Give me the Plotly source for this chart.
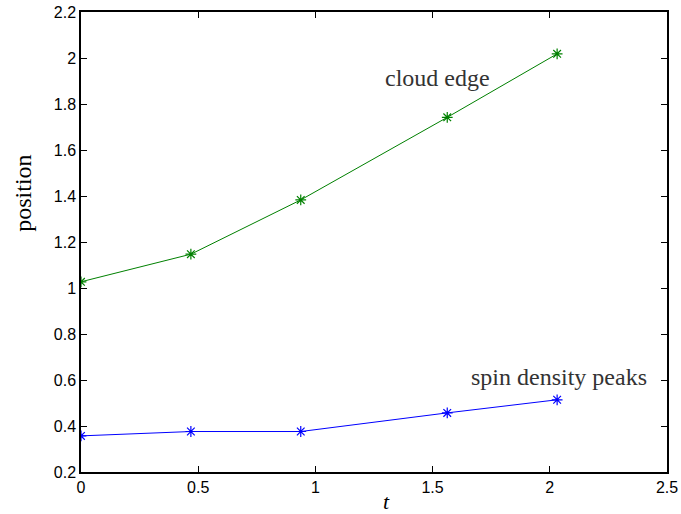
import plotly.graph_objects as go

# time samples and tracked positions
t = [0.0, 0.46875, 0.9375, 1.5625, 2.03125]
cloud_edge = [1.027, 1.147, 1.383, 1.742, 2.018]
spin_peaks = [0.357, 0.376, 0.376, 0.457, 0.514]

x_ticks = [0, 0.5, 1, 1.5, 2, 2.5]
y_ticks = [0.2, 0.4, 0.6, 0.8, 1.0, 1.2, 1.4, 1.6, 1.8, 2.0, 2.2]
y_tick_text = ["0.2", "0.4", "0.6", "0.8", "1", "1.2", "1.4", "1.6", "1.8", "2", "2.2"]
x_tick_text = ["0", "0.5", "1", "1.5", "2", "2.5"]

fig = go.Figure()
fig.add_trace(go.Scatter(
    x=t, y=cloud_edge, mode="lines+markers",
    line=dict(color="#008000", width=1),
    marker=dict(symbol="asterisk-open", size=9, color="#008000",
                line=dict(color="#008000", width=1.2)),
    showlegend=False,
))
fig.add_trace(go.Scatter(
    x=t, y=spin_peaks, mode="lines+markers",
    line=dict(color="#0000ff", width=1),
    marker=dict(symbol="asterisk-open", size=9, color="#0000ff",
                line=dict(color="#0000ff", width=1.2)),
    showlegend=False,
))

serif = "Liberation Serif, Times New Roman, serif"
fig.add_annotation(x=1.519, y=1.913, text="cloud edge", showarrow=False,
                   xanchor="center", yanchor="middle",
                   font=dict(family=serif, size=24, color="#333333"))
fig.add_annotation(x=2.04, y=0.613, text="spin density peaks", showarrow=False,
                   xanchor="center", yanchor="middle",
                   font=dict(family=serif, size=24, color="#333333"))

# axis titles placed in paper coordinates
fig.add_annotation(xref="paper", yref="paper", x=-0.099, y=0.607,
                   xanchor="center", yanchor="middle",
                   text="position", textangle=-90, showarrow=False,
                   font=dict(family=serif, size=24, color="black"))
fig.add_annotation(xref="paper", yref="paper", x=0.522, y=-0.065,
                   xanchor="center", yanchor="middle",
                   text="<i>t</i>", showarrow=False,
                   font=dict(family=serif, size=22, color="black"))

axis_common = dict(
    showgrid=False, zeroline=False, showline=True, mirror="ticks",
    linecolor="black", linewidth=1.5, ticks="inside", ticklen=6,
    tickcolor="black", tickwidth=1, automargin=False,
    tickfont=dict(family="Liberation Sans, Arial, sans-serif", size=16, color="black"),
)

fig.update_xaxes(range=[0, 2.5], tickvals=x_ticks, ticktext=x_tick_text, **axis_common)
fig.update_yaxes(range=[0.2, 2.2], tickvals=y_ticks, ticktext=y_tick_text, **axis_common)

fig.update_layout(
    width=681, height=514,
    margin=dict(l=81, r=14, t=12, b=42),
    plot_bgcolor="white", paper_bgcolor="white",
)

fig.write_html("out.html")
